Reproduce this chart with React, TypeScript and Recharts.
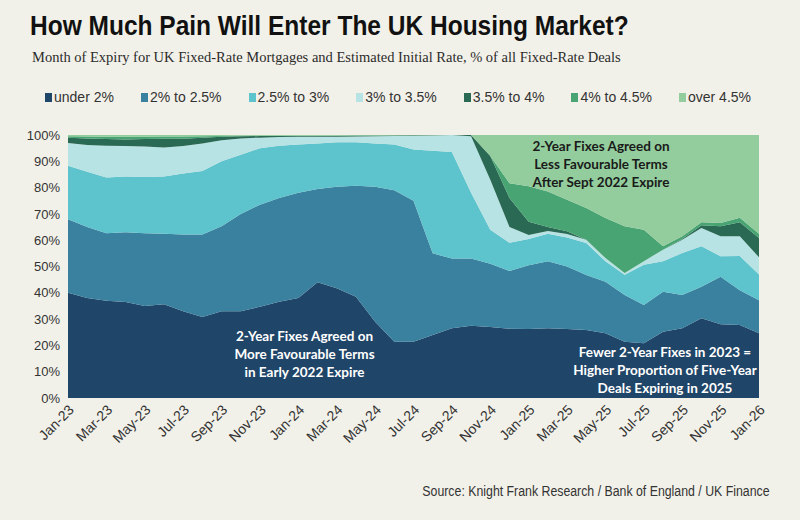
import React from "react";
import { AreaChart, Area, XAxis, YAxis } from "recharts";

const months = [
  "Jan-23", "Feb-23", "Mar-23", "Apr-23", "May-23", "Jun-23", "Jul-23", "Aug-23", "Sep-23", "Oct-23", "Nov-23", "Dec-23",
  "Jan-24", "Feb-24", "Mar-24", "Apr-24", "May-24", "Jun-24", "Jul-24", "Aug-24", "Sep-24", "Oct-24", "Nov-24", "Dec-24",
  "Jan-25", "Feb-25", "Mar-25", "Apr-25", "May-25", "Jun-25", "Jul-25", "Aug-25", "Sep-25", "Oct-25", "Nov-25", "Dec-25",
  "Jan-26",
];

// % of all fixed-rate deals expiring each month, by estimated initial rate
const under2 = [40, 38, 37, 36.5, 35, 35.6, 33, 30.8, 33, 33, 34.7, 36.6, 38, 44, 41.7, 38.5, 29, 21.4, 21.4, 24, 26.5, 27.5, 27, 26.3, 26.2, 26.5, 26.2, 25.9, 24.6, 21.4, 20.8, 25.2, 26.5, 30.3, 28, 27.8, 24.6];
const from2to25 = [28, 27, 25.6, 26.5, 27.6, 26.9, 29.2, 31.4, 32.3, 37, 38.8, 39.4, 40, 35.5, 38.6, 42.2, 51.3, 57.6, 53.6, 31, 26.5, 25.5, 24, 22, 24.3, 25.5, 23.8, 20.9, 19.6, 17.8, 14.6, 15.2, 12.7, 12, 18.1, 13.2, 12.6];
const from25to3 = [20.3, 21, 21.2, 21.2, 21.4, 21.7, 23.2, 24.1, 24.7, 22.5, 21.5, 19.9, 18.4, 17.3, 16.9, 16.5, 16.5, 17.4, 19.5, 39, 40.5, 25, 13, 10.7, 10, 10.5, 11, 12.1, 7.8, 7.7, 15.3, 11.6, 15.9, 15.4, 7.8, 13, 9.8];
const from3to35 = [8.7, 10.2, 12.1, 11.6, 11.6, 11, 10.4, 10.5, 8, 6.2, 4, 3.3, 2.9, 2.5, 2.1, 2.2, 2.7, 3.2, 5.2, 5.8, 6.5, 21.5, 19, 6, 1.5, 1, 1.4, 1.3, 1.2, 0.6, 1.3, 4.4, 5.1, 6.9, 7.6, 7.5, 6.5];
const from35to4 = [2, 2.5, 2.6, 2.5, 2.9, 3.4, 2.8, 2.2, 1.3, 0.8, 0.6, 0.4, 0.3, 0.3, 0.3, 0.3, 0.2, 0.2, 0.2, 0.1, 0, 0.5, 9, 11, 5, 1.5, 1, 0, 0, 0, 0, 0, 0.3, 1.1, 3.8, 5.3, 7.3];
const from4to45 = [0.5, 0.7, 0.8, 1, 0.8, 0.8, 0.8, 0.5, 0.3, 0.2, 0.2, 0.2, 0.2, 0.2, 0.2, 0.2, 0.2, 0.1, 0.1, 0.1, 0, 0, 0, 5.7, 13.5, 13.5, 12, 12, 15.2, 17.8, 12, 1.3, 1, 1.1, 1.2, 1.7, 1.7];
const over45 = [0.5, 0.6, 0.7, 0.7, 0.7, 0.6, 0.6, 0.5, 0.4, 0.3, 0.2, 0.2, 0.2, 0.2, 0.2, 0.1, 0.1, 0.1, 0, 0, 0, 0, 8, 18.3, 19.5, 21.5, 24.6, 27.8, 31.6, 34.7, 36, 42.3, 38.5, 33.2, 33.5, 31.5, 37.5];

const yTicks = [0, 10, 20, 30, 40, 50, 60, 70, 80, 90, 100];

const series = [
  { key: "under2", name: "under 2%", color: "#1f4568", values: under2 },
  { key: "from2to25", name: "2% to 2.5%", color: "#3a81a0", values: from2to25 },
  { key: "from25to3", name: "2.5% to 3%", color: "#5dc3cd", values: from25to3 },
  { key: "from3to35", name: "3% to 3.5%", color: "#b8e3e5", values: from3to35 },
  { key: "from35to4", name: "3.5% to 4%", color: "#2a6a54", values: from35to4 },
  { key: "from4to45", name: "4% to 4.5%", color: "#48a472", values: from4to45 },
  { key: "over45", name: "over 4.5%", color: "#93cd9d", values: over45 },
];

const data = months.map((m, i) => {
  const row: Record<string, string | number> = { month: m };
  series.forEach((s) => {
    row[s.key] = s.values[i];
  });
  return row;
});

const MonthTick = ({ x, y, payload }: any) => {
  const tx = x + 4;
  const ty = y + 2;
  return (
    <text
      x={tx}
      y={ty}
      dy={4}
      transform={`rotate(-45 ${tx} ${ty})`}
      textAnchor="end"
      fontSize={14}
      fontFamily="'Liberation Sans', Arial, sans-serif"
      fill="#333"
    >
      {payload.value}
    </text>
  );
};

const noteStyle: React.CSSProperties = {
  position: "absolute",
  fontFamily: "Lato, 'Open Sans', sans-serif",
  fontWeight: 700,
  fontSize: 13.5,
  lineHeight: "18px",
  textAlign: "center",
  whiteSpace: "nowrap",
};

export default function App() {
  return (
    <div
      style={{
        position: "absolute",
        left: 0,
        top: 0,
        width: 800,
        height: 520,
        background: "#f2f1e9",
        overflow: "hidden",
      }}
    >
      <div
        style={{
          position: "absolute",
          left: 30,
          top: 10,
          fontFamily: "'Liberation Sans', Arial, sans-serif",
          fontWeight: 700,
          fontSize: 28,
          color: "#111",
          whiteSpace: "nowrap",
          transform: "scaleX(0.875)",
          transformOrigin: "left center",
        }}
      >
        How Much Pain Will Enter The UK Housing Market?
      </div>
      <div
        style={{
          position: "absolute",
          left: 32,
          top: 49,
          fontFamily: "'Liberation Serif', 'Times New Roman', serif",
          fontSize: 14.5,
          color: "#2b2b2b",
          whiteSpace: "nowrap",
        }}
      >
        Month of Expiry for UK Fixed-Rate Mortgages and Estimated Initial Rate, % of all Fixed-Rate Deals
      </div>

      <div
        style={{
          position: "absolute",
          left: 45,
          top: 89,
          display: "flex",
          gap: 27,
          fontFamily: "'Liberation Sans', Arial, sans-serif",
          fontSize: 14,
          color: "#333",
          whiteSpace: "nowrap",
        }}
      >
        {series.map((s) => (
          <div key={s.key} style={{ display: "flex", alignItems: "center" }}>
            <span style={{ width: 7, height: 9, background: s.color, marginRight: 2, display: "inline-block" }} />
            <span>{s.name}</span>
          </div>
        ))}
      </div>

      <div style={{ position: "absolute", left: 0, top: 0 }}>
        <AreaChart
          width={800}
          height={520}
          data={data}
          margin={{ top: 135, right: 41, bottom: 0, left: 0 }}
        >
          <XAxis
            dataKey="month"
            interval={1}
            axisLine={false}
            tickLine={false}
            tick={<MonthTick />}
            height={122}
          />
          <YAxis
            type="number"
            domain={[0, 100]}
            ticks={yTicks}
            width={68}
            axisLine={false}
            tickLine={false}
            tickFormatter={(v: number) => `${v}%`}
            tick={{ fontSize: 13, fill: "#333", fontFamily: "'Liberation Sans', Arial, sans-serif" }}
          />
          {series.map((s) => (
            <Area
              key={s.key}
              type="linear"
              dataKey={s.key}
              stackId="1"
              stroke="none"
              fill={s.color}
              fillOpacity={1}
              isAnimationActive={false}
            />
          ))}
        </AreaChart>
      </div>

      <div style={{ ...noteStyle, left: 233, top: 327, width: 143, color: "#fff" }}>
        2-Year Fixes Agreed on
        <br />
        More Favourable Terms
        <br />
        in Early 2022 Expire
      </div>
      <div style={{ ...noteStyle, left: 530, top: 137, width: 142, color: "#1a1a1a" }}>
        2-Year Fixes Agreed on
        <br />
        Less Favourable Terms
        <br />
        After Sept 2022 Expire
      </div>
      <div style={{ ...noteStyle, left: 572, top: 343, width: 186, color: "#fff" }}>
        Fewer 2-Year Fixes in 2023 =
        <br />
        Higher Proportion of Five-Year
        <br />
        Deals Expiring in 2025
      </div>

      <div
        style={{
          position: "absolute",
          right: 30,
          top: 483,
          fontFamily: "'Liberation Sans', Arial, sans-serif",
          fontSize: 14,
          color: "#333",
          whiteSpace: "nowrap",
          transform: "scaleX(0.88)",
          transformOrigin: "right center",
        }}
      >
        Source: Knight Frank Research / Bank of England / UK Finance
      </div>
    </div>
  );
}
